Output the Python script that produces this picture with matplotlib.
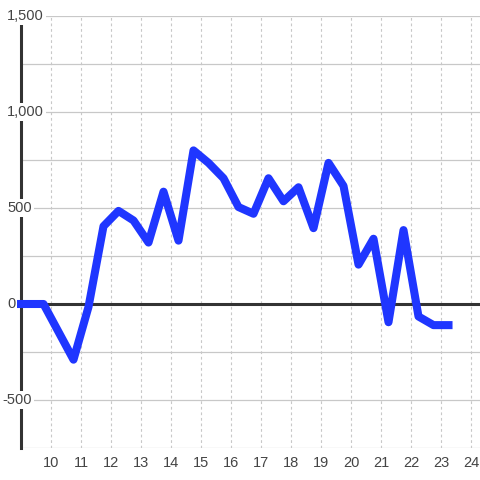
import matplotlib.pyplot as plt

hours = [9.0, 9.25, 9.75, 10.25, 10.75, 11.25, 11.75, 12.25, 12.75, 13.25,
         13.75, 14.25, 14.75, 15.25, 15.75, 16.25, 16.75, 17.25, 17.75, 18.25,
         18.75, 19.25, 19.75, 20.25, 20.75, 21.25, 21.75, 22.25, 22.75, 23.25]
values = [0, 0, 0, -145, -290, -15, 405, 485, 435, 320,
          585, 330, 800, 735, 655, 505, 470, 655, 535, 608,
          395, 735, 615, 205, 340, -95, 385, -65, -110, -110]
x_ticks = list(range(10, 25))
y_labels = [-500, 0, 500, 1000, 1500]
y_grid = [-750, -500, -250, 250, 500, 750, 1000, 1250, 1500]

plt.rcParams['font.family'] = ['Liberation Sans', 'DejaVu Sans']

fig = plt.figure(figsize=(4.8, 4.8), dpi=100)
ax = fig.add_axes([21/480, 32/480, 459/480, 432/480])
ax.set_xlim(9.0, 24.3)
ax.set_ylim(-750, 1500)

for v in y_grid:
    ax.axhline(v, color='#c8c8c8', lw=0.9, zorder=1)
for t in x_ticks:
    ax.axvline(t, color='#c8c8c8', lw=0.8, ls=(0, (2.5, 2.5)), zorder=1)
ax.axhline(0, color='#333333', lw=2.2, zorder=2)

ax.plot(hours, values, color='#1f36ff', lw=5.8, solid_joinstyle='round',
        solid_capstyle='projecting', clip_on=False, zorder=4)

for s in ['top', 'right', 'bottom']:
    ax.spines[s].set_visible(False)
ax.spines['left'].set_color('#333333')
ax.spines['left'].set_linewidth(2.2)
ax.spines['left'].set_zorder(3)

ax.set_xticks(x_ticks)
ax.set_xticklabels([str(t) for t in x_ticks])
ax.tick_params(axis='x', length=0, pad=6, labelsize=10.5, labelcolor='#444444')
ax.set_yticks([])

for v in y_labels:
    off = -19 if v < 0 else -14
    ax.annotate(f'{v:,}', xy=(0, v), xycoords=('axes fraction', 'data'),
                xytext=(off, 0), textcoords='offset pixels',
                ha='left', va='center', fontsize=10.5, color='#444444',
                bbox=dict(boxstyle='square,pad=0.15', fc='white', ec='none'),
                zorder=10, annotation_clip=False)

fig.savefig('out.png', dpi=100)
